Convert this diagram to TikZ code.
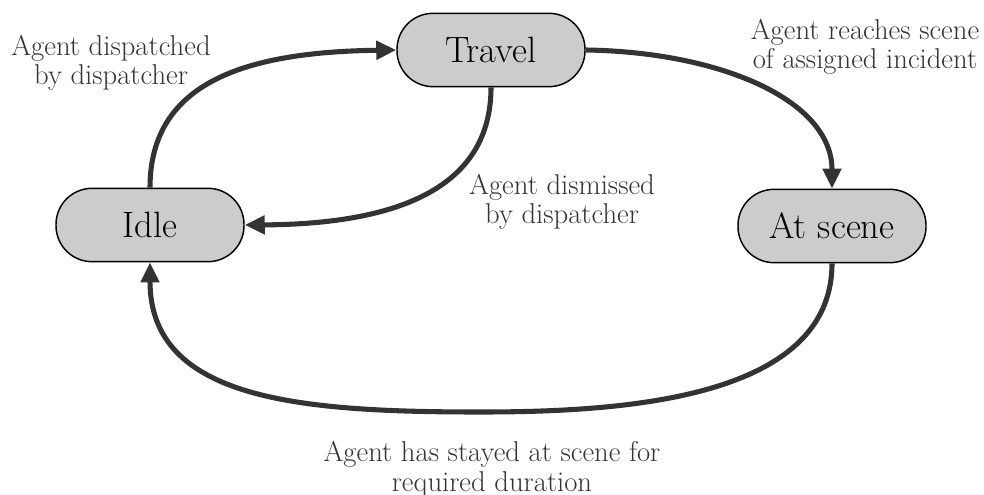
\documentclass[tikz,border=0pt]{standalone}
\usetikzlibrary{arrows.meta}
\definecolor{statefill}{HTML}{CCCCCC}
\definecolor{edgecol}{HTML}{333333}
\definecolor{labelcol}{HTML}{333333}
\tikzset{
  state/.style={draw=black, line width=1.1pt, fill=statefill, rectangle,
    rounded corners=27pt, minimum width=141pt, minimum height=55pt,
    inner sep=0pt, font=\fontsize{27.5}{31}\selectfont},
  trans/.style={draw=edgecol, line width=3.8pt,
    -{Triangle[length=15pt,width=13.5pt]}},
  lbl/.style={text=labelcol, align=center, font=\fontsize{21.5}{22}\selectfont}
}
\begin{document}
\begin{tikzpicture}[x=0.75pt,y=-0.75pt]
  \useasboundingbox (0,0) rectangle (984,495);

  % states
  \node[state] (travel) at (491,50) {Travel};
  \node[state] (idle) at (150,225) {Idle};
  \node[state] (scene) at (832,226) {At scene};

  % transitions
  \draw[trans] (idle.north) .. controls (150,80) and (250,52) .. (travel.west);
  \draw[trans] (travel.east) .. controls (720,52) and (832,100) .. (scene.north);
  \draw[trans] (travel.south) .. controls (491,175) and (420,224) .. (idle.east);
  \coordinate (low) at (480,412);
  \draw[trans] (scene.south) .. controls (832,400) and (620,412) .. (low)
    .. controls (300,412) and (150,400) .. (idle.south);

  % transition labels
  \node[lbl] (l1) at (111,63) {Agent dispatched\\by dispatcher};
  \node[lbl] (l2) at (865,47) {Agent reaches scene\\of assigned incident};
  \node[lbl] (l3) at (562,202) {Agent dismissed\\by dispatcher};
  \node[lbl] (l4) at (492,469) {Agent has stayed at scene for\\required duration};
\end{tikzpicture}
\end{document}
